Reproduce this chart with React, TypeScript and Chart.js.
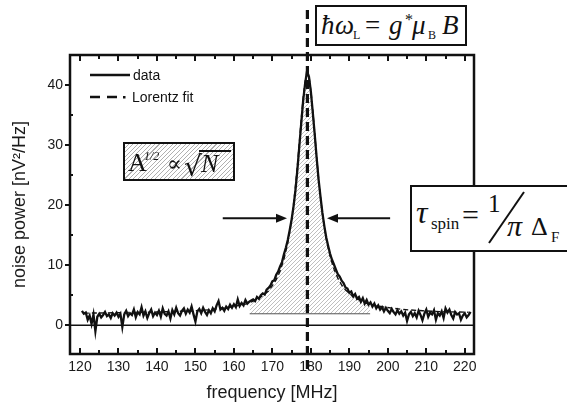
import React, { useEffect, useRef } from 'react';
import { Chart, registerables } from 'chart.js';

Chart.register(...registerables);

// ---------- data ----------
const dataStart = 120.5; // MHz, first sample
const dataStep = 0.5; // MHz between samples
const dataValues = [
  2.4, 1.9, 2.1, 0.9, 1.6, 0.2, 1.8, -1.0, 1.4, 1.9,
  1.3, 1.7, 2.2, 1.5, 1.8, 1.2, 2.0, 1.6, 2.1, 1.4,
  1.9, -0.3, 1.8, 2.4, 1.5, 2.0, 1.7, 2.6, 1.3, 2.2,
  1.8, 3.0, 1.6, 2.3, 1.2, 2.0, 2.6, 1.5, 2.1, 1.7,
  2.4, 1.4, 2.8, 1.9, 1.6, 2.3, 1.1, 2.5, 1.8, 2.9,
  2.0, 1.6, 2.4, 2.8, 1.9, 2.6, 2.1, 3.1, 1.8, 0.6,
  2.3, 2.7, 2.0, 2.9, 2.2, 1.7, 2.5, 2.0, 2.8, 2.3,
  3.3, 4.0, 2.6, 2.9, 2.4, 3.1, 2.7, 3.4, 2.9, 3.5,
  3.0, 4.3, 3.2, 3.7, 3.3, 4.2, 3.6, 3.9, 4.1, 4.3,
  4.0, 4.7, 4.4, 5.0, 5.3, 5.1, 5.9, 6.2, 6.6, 7.3,
  7.5, 8.4, 8.9, 9.8, 10.5, 11.8, 12.9, 14.2, 15.8, 17.6,
  19.8, 22.5, 25.9, 29.8, 33.6, 37.4, 40.2, 42.3, 41.4, 38.9,
  35.4, 31.8, 27.9, 24.3, 21.4, 18.7, 16.5, 14.6, 13.2, 11.9,
  10.9, 10.1, 9.3, 8.5, 8.1, 7.4, 7.0, 6.3, 6.1, 5.4,
  5.6, 4.8, 5.2, 4.4, 4.7, 3.9, 4.5, 3.6, 4.2, 3.4,
  3.8, 3.1, 3.6, 2.8, 3.3, 2.6, 3.0, 2.3, 2.9, 2.4,
  2.0, 2.7, 2.2, 1.8, 2.5, 1.9, 2.3, 1.6, 2.1, 0.7,
  1.8, 2.2, 1.5, 2.0, 1.3, 2.4, 1.7, 0.8, 1.9, 2.6,
  1.4, 2.1, 1.8, 2.5, 0.9, 2.0, 1.6, 2.3, 1.2, 2.8,
  2.1, 2.6, 1.7, 1.1, 2.2, 1.8, 2.0, 0.9, 1.6, 2.0,
  1.3, 1.7, 2.2,
];

const fitFreq = [
  121, 129, 139, 149, 154, 159, 163, 165, 167, 169, 170, 171, 172, 173, 174,
  174.6, 175.1, 175.6, 176.1, 176.6, 177.1, 177.6, 178.1, 178.6, 179.1,
  179.6, 180.1, 180.6, 181.1, 181.6, 182.1, 182.6, 183.1, 183.6, 184.1,
  185.1, 186.1, 187.1, 188.1, 189.1, 191.1, 193.1, 195.1, 199.1, 204.1, 209.1, 214.1, 221,
];
const fitValues = [
  2.0, 2.07, 2.17, 2.37, 2.58, 3.0, 3.5, 4.0, 4.7, 5.7, 6.6, 7.6, 9.0, 11.0, 13.7,
  15.9, 18.1, 20.7, 23.8, 27.3, 31.15, 35.05, 38.5, 41.0, 41.9,
  41.0, 38.5, 35.05, 31.15, 27.3, 23.8, 20.7, 18.1, 15.9, 14.0,
  11.2, 9.2, 7.7, 6.6, 5.8, 4.7, 4.0, 3.5, 3.0, 2.6, 2.4, 2.25, 2.15,
];

const hatchFreq = [
  164.1, 165, 167, 169, 170, 171, 172, 173, 174, 174.6, 175.1, 175.6, 176.1, 176.6,
  177.1, 177.6, 178.1, 178.6, 179.1, 179.6, 180.1, 180.6, 181.1, 181.6, 182.1, 182.6,
  183.1, 183.6, 184.1, 185.1, 186.1, 187.1, 188.1, 189.1, 191.1, 193.1, 195.1, 195.4,
];
const hatchValues = [
  3.75, 4.0, 4.7, 5.7, 6.6, 7.6, 9.0, 11.0, 13.7, 15.9, 18.1, 20.7, 23.8, 27.3,
  31.15, 35.05, 38.5, 41.0, 41.9, 41.0, 38.5, 35.05, 31.15, 27.3, 23.8, 20.7,
  18.1, 15.9, 14.0, 11.2, 9.2, 7.7, 6.6, 5.8, 4.7, 4.0, 3.5, 3.47,
];
const baselineLevel = 1.9;
const baselineFreq = [164.1, 195.4];

const peakFreq = 179.1; // vertical dashed marker
const arrowLevel = 17.8;
const leftArrowFreq = [157.1, 173.8]; // tail, head
const rightArrowFreq = [200.6, 184.2]; // tail, head

const xMin = 117.4;
const xMax = 222.4;
const yMin = -4.8;
const yMax = 45;
const xMajorTicks = [120, 130, 140, 150, 160, 170, 180, 190, 200, 210, 220];
const xMinorTicks = [125, 135, 145, 155, 165, 175, 185, 195, 205, 215];
const yMajorTicks = [0, 10, 20, 30, 40];
const yMinorTicks = [5, 15, 25, 35];

const legendLabels = ['data', 'Lorentz fit'];
const xTitle = 'frequency [MHz]';
const yTitle = 'noise power [nV²/Hz]';

// ---------- helpers ----------
const SERIF = '"Liberation Serif", "DejaVu Serif", serif';
const SANS = '"Liberation Sans", Arial, sans-serif';

function makeHatch(): CanvasPattern | string {
  const c = document.createElement('canvas');
  c.width = 4;
  c.height = 4;
  const g = c.getContext('2d');
  if (!g) return 'rgba(150,150,150,0.4)';
  g.strokeStyle = 'rgba(120,120,120,0.6)';
  g.lineWidth = 0.8;
  g.beginPath();
  g.moveTo(0, 4);
  g.lineTo(4, 0);
  g.moveTo(-1, 1);
  g.lineTo(1, -1);
  g.moveTo(3, 5);
  g.lineTo(5, 3);
  g.stroke();
  return g.createPattern(c, 'repeat') || 'rgba(150,150,150,0.4)';
}

function drawArrow(ctx: CanvasRenderingContext2D, x1: number, y: number, x2: number) {
  const dir = Math.sign(x2 - x1);
  ctx.beginPath();
  ctx.moveTo(x1, y);
  ctx.lineTo(x2 - dir * 8, y);
  ctx.stroke();
  ctx.beginPath();
  ctx.moveTo(x2, y);
  ctx.lineTo(x2 - dir * 11, y - 4.5);
  ctx.lineTo(x2 - dir * 11, y + 4.5);
  ctx.closePath();
  ctx.fill();
}

const decorPlugin = {
  id: 'decor',
  beforeDatasetsDraw(chart: any) {
    const { ctx, chartArea, scales } = chart;
    const y0 = scales.y.getPixelForValue(0);
    ctx.save();
    ctx.strokeStyle = '#111';
    ctx.lineWidth = 1.6;
    ctx.beginPath();
    ctx.moveTo(chartArea.left, y0);
    ctx.lineTo(chartArea.right, y0);
    ctx.stroke();
    ctx.restore();
  },
  afterDraw(chart: any) {
    const { ctx, chartArea, scales } = chart;
    const { left, right, top, bottom } = chartArea;
    const xs = scales.x;
    const ys = scales.y;
    ctx.save();
    ctx.strokeStyle = '#111';
    ctx.fillStyle = '#111';
    // frame
    ctx.lineWidth = 2.5;
    ctx.strokeRect(left, top, right - left, bottom - top);
    // ticks
    ctx.lineWidth = 2;
    ctx.beginPath();
    xMajorTicks.forEach((v) => {
      const px = Math.round(xs.getPixelForValue(v));
      ctx.moveTo(px, bottom);
      ctx.lineTo(px, bottom - 6);
      ctx.moveTo(px, top);
      ctx.lineTo(px, top + 6);
    });
    xMinorTicks.forEach((v) => {
      const px = Math.round(xs.getPixelForValue(v));
      ctx.moveTo(px, bottom);
      ctx.lineTo(px, bottom - 4);
      ctx.moveTo(px, top);
      ctx.lineTo(px, top + 4);
    });
    yMajorTicks.forEach((v) => {
      const py = Math.round(ys.getPixelForValue(v));
      ctx.moveTo(left - 5, py);
      ctx.lineTo(left, py);
    });
    yMinorTicks.forEach((v) => {
      const py = Math.round(ys.getPixelForValue(v));
      ctx.moveTo(left, py);
      ctx.lineTo(left + 3, py);
    });
    ctx.stroke();

    // arrows
    const ay = ys.getPixelForValue(arrowLevel);
    ctx.lineWidth = 2;
    drawArrow(ctx, xs.getPixelForValue(leftArrowFreq[0]), ay, xs.getPixelForValue(leftArrowFreq[1]));
    drawArrow(ctx, xs.getPixelForValue(rightArrowFreq[0]), ay, xs.getPixelForValue(rightArrowFreq[1]));

    // legend samples
    ctx.lineWidth = 2.5;
    ctx.beginPath();
    ctx.moveTo(90, 75);
    ctx.lineTo(130, 75);
    ctx.stroke();
    ctx.setLineDash([10, 7]);
    ctx.beginPath();
    ctx.moveTo(90, 97);
    ctx.lineTo(118, 97);
    ctx.stroke();
    ctx.setLineDash([]);
    ctx.fillRect(123, 96, 2.5, 2.5);

    // vertical dashed marker
    const px = xs.getPixelForValue(peakFreq);
    ctx.lineWidth = 3.2;
    ctx.setLineDash([9, 5]);
    ctx.beginPath();
    ctx.moveTo(px, 10);
    ctx.lineTo(px, 374);
    ctx.stroke();
    ctx.restore();
  },
};

function T(props: { x: number; b: number; s: number; i?: boolean; sans?: boolean; f?: string; children: any }) {
  const { x, b, s, i, sans, f, children } = props;
  const k = sans ? 0.8465 : 0.8375;
  return (
    <span
      style={{
        position: 'absolute',
        left: x,
        top: b - k * s,
        fontSize: s,
        lineHeight: '1',
        fontStyle: i ? 'italic' : 'normal',
        fontFamily: f || (sans ? SANS : SERIF),
        whiteSpace: 'nowrap',
        color: '#111',
      }}
    >
      {children}
    </span>
  );
}

export default function App() {
  const canvasRef = useRef<HTMLCanvasElement | null>(null);

  useEffect(() => {
    const canvas = canvasRef.current;
    if (!canvas) return;
    const hatch = makeHatch();
    const tickFont = { family: SANS, size: 14 };
    const chart = new Chart(canvas, {
      type: 'line',
      data: {
        datasets: [
          {
            label: legendLabels[0],
            data: dataValues.map((v, i) => ({ x: dataStart + i * dataStep, y: v })),
            borderColor: '#111',
            borderWidth: 2.3,
            pointRadius: 0,
            fill: false,
          },
          {
            label: legendLabels[1],
            data: fitFreq.map((f, i) => ({ x: f, y: fitValues[i] })),
            borderColor: '#111',
            borderWidth: 1.4,
            borderDash: [5, 3],
            pointRadius: 0,
            fill: false,
          },
          {
            label: 'baseline',
            data: baselineFreq.map((f) => ({ x: f, y: baselineLevel })),
            borderColor: '#555',
            borderWidth: 1,
            pointRadius: 0,
            fill: false,
          },
          {
            label: 'area',
            data: hatchFreq.map((f, i) => ({ x: f, y: hatchValues[i] })),
            borderWidth: 0,
            borderColor: 'rgba(0,0,0,0)',
            backgroundColor: hatch as any,
            pointRadius: 0,
            fill: { value: baselineLevel },
          },
        ],
      },
      options: {
        animation: false,
        responsive: false,
        devicePixelRatio: 1,
        layout: { padding: { left: 0, right: 93, top: 55, bottom: 0 } },
        plugins: { legend: { display: false }, tooltip: { enabled: false } },
        elements: { line: { tension: 0 }, point: { radius: 0 } },
        scales: {
          x: {
            type: 'linear',
            min: xMin,
            max: xMax,
            afterBuildTicks: (s: any) => {
              s.ticks = xMajorTicks.map((v) => ({ value: v }));
            },
            afterFit: (s: any) => {
              s.height = 57;
            },
            grid: { display: false, drawTicks: false },
            border: { display: false },
            ticks: { padding: 5, font: tickFont, color: '#1a1a1a', maxRotation: 0, autoSkip: false },
            title: {
              display: true,
              text: xTitle,
              font: { family: SANS, size: 18 },
              color: '#1a1a1a',
              padding: { top: 0, bottom: 7 },
            },
          },
          y: {
            min: yMin,
            max: yMax,
            afterBuildTicks: (s: any) => {
              s.ticks = yMajorTicks.map((v) => ({ value: v }));
            },
            afterFit: (s: any) => {
              s.width = 70;
            },
            grid: { display: false, drawTicks: false },
            border: { display: false },
            ticks: { padding: 7, font: tickFont, color: '#1a1a1a' },
            title: {
              display: true,
              text: yTitle,
              font: { family: SANS, size: 18 },
              color: '#1a1a1a',
              padding: { top: 9, bottom: 0 },
            },
          },
        },
      },
      plugins: [decorPlugin],
    } as any);
    return () => chart.destroy();
  }, []);

  return (
    <div
      style={{
        position: 'fixed',
        left: 0,
        top: 0,
        width: 567,
        height: 411,
        overflow: 'hidden',
        background: '#fff',
      }}
    >
      <canvas ref={canvasRef} width={567} height={411} style={{ position: 'absolute', left: 0, top: 0 }} />

      {/* legend text */}
      <T x={133} b={80} s={14} sans>{legendLabels[0]}</T>
      <T x={132} b={102} s={14} sans>{legendLabels[1]}</T>

      {/* box 1: Larmor */}
      <div
        style={{
          position: 'absolute',
          left: 315,
          top: 5,
          width: 152,
          height: 41,
          boxSizing: 'border-box',
          border: '2px solid #111',
          background: '#fff',
        }}
      />
      <T x={321} b={35} s={27} i>ħ</T>
      <T x={335} b={35} s={27} i>ω</T>
      <T x={353} b={39} s={12}>L</T>
      <T x={365} b={35} s={27}>=</T>
      <T x={389} b={35} s={27} i>g</T>
      <T x={405} b={25} s={16}>*</T>
      <T x={412} b={35} s={27} i>μ</T>
      <T x={428} b={39} s={12}>B</T>
      <T x={442} b={35} s={27} i>B</T>

      {/* box 2: amplitude */}
      <div
        style={{
          position: 'absolute',
          left: 123,
          top: 142,
          width: 112,
          height: 39,
          boxSizing: 'border-box',
          border: '2px solid #111',
          background:
            'repeating-linear-gradient(135deg, #ffffff 0px, #ffffff 2.3px, #b0b0b0 2.3px, #b0b0b0 3.1px)',
        }}
      />
      <T x={128} b={172} s={26}>A</T>
      <T x={144} b={160} s={12} i>1/2</T>
      <T x={167} b={171} s={22}>∝</T>
      <T x={184} b={176} s={28} f='"DejaVu Serif", serif'>√</T>
      <div style={{ position: 'absolute', left: 199, top: 150, width: 32, height: 2, background: '#111' }} />
      <T x={201} b={173} s={26} i>N</T>

      {/* box 3: spin lifetime */}
      <div
        style={{
          position: 'absolute',
          left: 410,
          top: 185,
          width: 170,
          height: 67,
          boxSizing: 'border-box',
          border: '2px solid #111',
          background: '#fff',
        }}
      />
      <T x={416} b={223} s={32} i>τ</T>
      <T x={431} b={229} s={17}>spin</T>
      <T x={462} b={225} s={30}>=</T>
      <T x={488} b={212} s={25}>1</T>
      <svg
        width={567}
        height={411}
        style={{ position: 'absolute', left: 0, top: 0, pointerEvents: 'none' }}
      >
        <line x1={489} y1={243} x2={524} y2={192} stroke="#111" strokeWidth={2} />
      </svg>
      <T x={507} b={236} s={30} i>π</T>
      <T x={531} b={236} s={26}>Δ</T>
      <T x={551} b={243} s={15}>F</T>
    </div>
  );
}
